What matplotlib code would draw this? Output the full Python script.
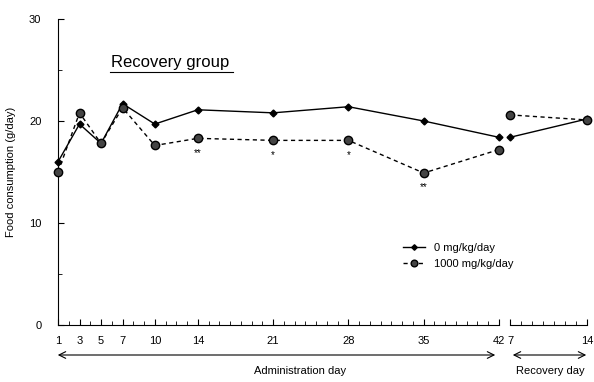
import matplotlib.pyplot as plt

plt.rcParams['font.family'] = ['Liberation Sans', 'DejaVu Sans']

# Administration period
admin_days = [1, 3, 5, 7, 10, 14, 21, 28, 35, 42]
admin_ctrl = [16.0, 19.7, 17.8, 21.7, 19.7, 21.1, 20.8, 21.4, 20.0, 18.4]
admin_high = [15.0, 20.8, 17.8, 21.3, 17.6, 18.3, 18.1, 18.1, 14.9, 17.2]
admin_ticks = [1, 3, 5, 7, 10, 14, 21, 28, 35, 42]

# Recovery period
rec_days = [7, 14]
rec_ctrl = [18.4, 20.2]
rec_high = [20.6, 20.1]

# significance marks (day, text)
sig_days = [14, 21, 28, 35]
sig_text = ["**", "*", "*", "**"]

fig = plt.figure(figsize=(5.94, 3.82), dpi=100)
ax2 = fig.add_axes([510/594, 1-325/382, 77/594, 306/382])
ax = fig.add_axes([58/594, 1-325/382, 441/594, 306/382])
ax.patch.set_visible(False)
ax2.patch.set_visible(False)

ctrl_kw = dict(color='black', lw=1.0, marker='D', ms=3.5, clip_on=False, zorder=3)
high_kw = dict(color='black', lw=1.0, ls=(0, (3, 2.5)), marker='o', ms=6,
               mfc='#444444', mec='black', clip_on=False, zorder=3)

ax.plot(admin_days, admin_ctrl, label='0 mg/kg/day', **ctrl_kw)
ax.plot(admin_days, admin_high, label='1000 mg/kg/day', **high_kw)
ax2.plot(rec_days, rec_ctrl, **ctrl_kw)
ax2.plot(rec_days, rec_high, **high_kw)

for d, t in zip(sig_days, sig_text):
    v = admin_high[admin_days.index(d)]
    ax.text(d, v - 1.4, t, ha='center', va='center', fontsize=7)

ax.set_xlim(1, 42)
ax.set_ylim(0, 30)
ax.set_yticks([0, 10, 20, 30])
ax.set_yticks([5, 15, 25], minor=True)
ax.set_xticks(admin_ticks)
ax.set_xticks(range(1, 43), minor=True)
ax.tick_params(axis='both', which='both', direction='in', labelsize=8)
ax.tick_params(axis='x', which='major', length=4, pad=8)
ax.tick_params(axis='x', which='minor', length=3)
ax.tick_params(axis='y', which='major', length=4, pad=12)
ax.tick_params(axis='y', which='minor', length=3)
for s in ['top', 'right']:
    ax.spines[s].set_visible(False)
ax.set_ylabel('Food consumption (g/day)', fontsize=8, labelpad=9)

ax2.set_xlim(7, 14)
ax2.set_ylim(0, 30)
ax2.set_yticks([])
ax2.set_xticks([7, 14])
ax2.set_xticks(range(7, 15), minor=True)
ax2.tick_params(axis='x', which='both', direction='in', labelsize=8)
ax2.tick_params(axis='x', which='major', length=4, pad=8)
ax2.tick_params(axis='x', which='minor', length=3)
for s in ['top', 'right', 'left']:
    ax2.spines[s].set_visible(False)

ax.text(0.12, 0.857, 'Recovery group', transform=ax.transAxes, fontsize=12,
        ha='left', va='center')
ax.plot([0.118, 0.396], [0.828, 0.828], transform=ax.transAxes, color='black',
        lw=0.8)

ax.legend(loc='upper left', bbox_to_anchor=(0.76, 0.3), frameon=False,
          fontsize=8, handlelength=2.0, labelspacing=0.5, markerscale=0.8)

# arrows under the axis
fig.patches.append(plt.matplotlib.patches.FancyArrowPatch(
    (55/594, 1-355/382), (498/594, 1-355/382), transform=fig.transFigure,
    arrowstyle='<->', mutation_scale=12, lw=0.8, color='black'))
fig.patches.append(plt.matplotlib.patches.FancyArrowPatch(
    (510/594, 1-355/382), (589/594, 1-355/382), transform=fig.transFigure,
    arrowstyle='<->', mutation_scale=12, lw=0.8, color='black'))
fig.text(300/594, 1-371/382, 'Administration day', ha='center', va='center',
         fontsize=8)
fig.text(550/594, 1-371/382, 'Recovery day', ha='center', va='center',
         fontsize=8)

fig.savefig('out.png', dpi=100)
